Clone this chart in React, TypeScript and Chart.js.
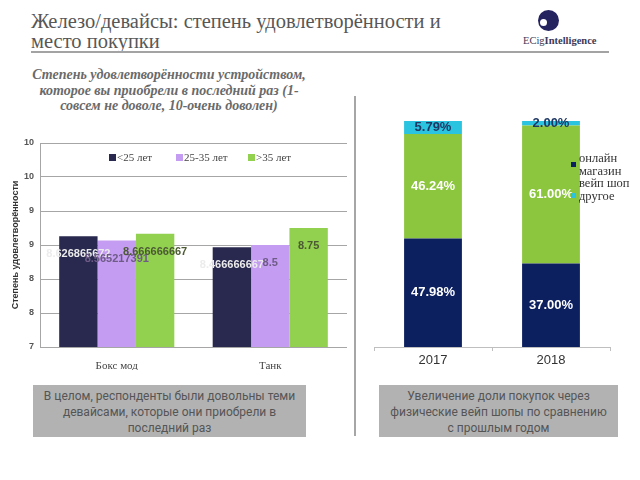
import React, { useEffect, useRef } from "react";
import { Chart, registerables } from "chart.js";

Chart.register(...registerables);

// ---- Data: left chart (satisfaction) ----
const deviceCategories = ["Бокс мод", "Танк"];
const ageGroups = ["<25 лет", "25-35 лет", ">35 лет"];
const under25 = [8.626865672, 8.466666667];
const age25to35 = [8.565217391, 8.5];
const over35 = [8.666666667, 8.75];
const satisfactionMin = 7;
const satisfactionMax = 10;
const satisfactionStep = 0.5;
const satisfactionAxisTitle = "Степень удовлетворённости";

// ---- Data: right chart (place of purchase) ----
const years = ["2017", "2018"];
const placeNames = ["онлайн магазин", "вейп шоп", "другое"];
const onlineShop = [47.98, 37.0];
const vapeShop = [46.24, 61.0];
const otherPlace = [5.79, 2.0];

// ---- Styles ----
const ageColors = ["#29294f", "#c49cf2", "#92d050"];
const ageLabelColors = ["#ececec", "#6e5b86", "#4c5a34"];
const placeColors = ["#0c1f5f", "#8cc63e", "#2ac3e0"];
const placeLabelColors = ["#ffffff", "#ffffff", "#1f3864"];

const valueLabels = {
  id: "valueLabels",
  afterDatasetsDraw(chart: any, _args: any, opts: any) {
    const ctx = chart.ctx;
    chart.data.datasets.forEach((ds: any, i: number) => {
      const meta = chart.getDatasetMeta(i);
      meta.data.forEach((bar: any, j: number) => {
        const v = ds.data[j];
        const text = opts.format(v);
        let y: number;
        if (opts.mode === "center") {
          const p = bar.getProps(["y", "base"], true);
          y = (p.y + p.base) / 2;
        } else {
          y = bar.y + opts.offset;
        }
        ctx.save();
        ctx.font = opts.font;
        ctx.fillStyle = opts.colors[i];
        ctx.textAlign = "center";
        ctx.textBaseline = "middle";
        ctx.fillText(text, bar.x, y);
        ctx.restore();
      });
    });
  },
};

function SatisfactionChart() {
  const ref = useRef<HTMLCanvasElement | null>(null);
  useEffect(() => {
    if (!ref.current) return;
    const series = [under25, age25to35, over35];
    const chart = new Chart(ref.current, {
      type: "bar",
      data: {
        labels: deviceCategories,
        datasets: ageGroups.map((name, i) => ({
          label: name,
          data: series[i],
          backgroundColor: ageColors[i],
          borderWidth: 0,
          categoryPercentage: 0.75,
          barPercentage: 1,
        })),
      },
      options: {
        animation: false,
        responsive: false,
        maintainAspectRatio: false,
        layout: { padding: { left: 0, right: 8, top: 13, bottom: 0 } },
        plugins: {
          legend: { display: false },
          tooltip: { enabled: false },
          valueLabels: {
            mode: "top",
            offset: 18,
            font: "bold 11px 'Liberation Sans'",
            colors: ageLabelColors,
            format: (v: number) => String(v),
          },
        } as any,
        scales: {
          x: {
            grid: { display: false },
            border: { display: false },
            ticks: {
              font: { family: "'Liberation Serif'", size: 11 },
              color: "#444",
              padding: 5,
            },
            afterFit: (s: any) => {
              s.height = 23;
            },
          },
          y: {
            min: satisfactionMin,
            max: satisfactionMax,
            grid: { color: "#a6a6a6", drawTicks: false },
            border: { display: true, color: "#a6a6a6" },
            ticks: {
              stepSize: satisfactionStep,
              padding: 6,
              color: "#555",
              font: { family: "'Liberation Sans'", size: 9, weight: "bold" },
              callback: (v: any) => String(Math.round(Number(v))),
            },
            title: {
              display: true,
              text: satisfactionAxisTitle,
              color: "#333",
              font: { family: "'Liberation Sans'", size: 9, weight: "bold" },
              padding: { top: 10, bottom: 0 },
            },
            afterFit: (s: any) => {
              s.width = 40;
            },
          },
        },
      },
      plugins: [valueLabels as any],
    });
    return () => chart.destroy();
  }, []);
  return <canvas ref={ref} width={355} height={240} style={{ display: "block" }} />;
}

function PlaceChart() {
  const ref = useRef<HTMLCanvasElement | null>(null);
  useEffect(() => {
    if (!ref.current) return;
    const series = [onlineShop, vapeShop, otherPlace];
    const chart = new Chart(ref.current, {
      type: "bar",
      data: {
        labels: years,
        datasets: placeNames.map((name, i) => ({
          label: name,
          data: series[i],
          backgroundColor: placeColors[i],
          borderWidth: 0,
          categoryPercentage: 1,
          barPercentage: 0.49,
        })),
      },
      options: {
        animation: false,
        responsive: false,
        maintainAspectRatio: false,
        layout: { padding: { left: 14, right: 30, top: 21, bottom: 0 } },
        plugins: {
          legend: { display: false },
          tooltip: { enabled: false },
          valueLabels: {
            mode: "center",
            font: "bold 13px 'Liberation Sans'",
            colors: placeLabelColors,
            format: (v: number) => v.toFixed(2) + "%",
          },
        } as any,
        scales: {
          x: {
            stacked: true,
            grid: { drawOnChartArea: false, tickLength: 4, color: "#bfbfbf" },
            border: { color: "#bfbfbf" },
            ticks: {
              font: { family: "'Liberation Sans'", size: 13 },
              color: "#333",
              padding: 2,
            },
            afterFit: (s: any) => {
              s.height = 33;
            },
          },
          y: {
            stacked: true,
            display: false,
            min: 0,
            max: 100,
          },
        },
      },
      plugins: [valueLabels as any],
    });
    return () => chart.destroy();
  }, []);
  return <canvas ref={ref} width={280} height={280} style={{ display: "block" }} />;
}

export default function App() {
  const abs = (s: React.CSSProperties): React.CSSProperties => ({ position: "absolute", ...s });
  return (
    <div style={{ position: "absolute", left: 0, top: 0, width: 640, height: 480, background: "#fff", overflow: "hidden" }}>
      {/* Title */}
      <div
        style={abs({
          left: 31,
          top: 11,
          width: 470,
          fontFamily: "'Liberation Serif', serif",
          fontSize: 20.5,
          lineHeight: "20px",
          color: "#575757",
        })}
      >
        Железо/девайсы: степень удовлетворённости и
        <br />
        место покупки
      </div>
      <div style={abs({ left: 31, top: 51, width: 578, height: 2, background: "#a3a3a3" })} />

      {/* Logo */}
      <div style={abs({ left: 538, top: 10, width: 21, height: 21, borderRadius: "50%", background: "#24235f" })} />
      <div style={abs({ left: 540, top: 19, width: 7, height: 7, borderRadius: "50%", background: "#fff" })} />
      <div
        style={abs({
          left: 523,
          top: 35,
          fontFamily: "'Liberation Serif', serif",
          fontSize: 10.5,
          color: "#3b3b5b",
          whiteSpace: "nowrap",
        })}
      >
        ECig<b>Intelligence</b>
      </div>

      {/* Subtitle */}
      <div
        style={abs({
          left: 19,
          top: 67,
          width: 300,
          textAlign: "center",
          fontFamily: "'Liberation Serif', serif",
          fontStyle: "italic",
          fontWeight: "bold",
          fontSize: 14,
          lineHeight: "15.5px",
          color: "#6a6a6a",
        })}
      >
        Степень удовлетворённости устройством,
        <br />
        которое вы приобрели в последний раз (1-
        <br />
        совсем не доволе, 10-очень доволен)
      </div>

      {/* Divider */}
      <div style={abs({ left: 354, top: 96, width: 2, height: 340, background: "#a6a6a6" })} />

      {/* Left chart */}
      <div style={abs({ left: 0, top: 130, width: 355, height: 240 })}>
        <SatisfactionChart />
      </div>
      {/* Left legend */}
      {ageGroups.map((name, i) => (
        <div
          key={name}
          style={abs({
            left: [109, 176, 248][i],
            top: 150,
            display: "flex",
            alignItems: "center",
            fontFamily: "'Liberation Serif', serif",
            fontSize: 11,
            lineHeight: "14px",
            color: "#444",
            whiteSpace: "nowrap",
          })}
        >
          <span style={{ display: "inline-block", width: 7, height: 7, background: ageColors[i], marginRight: 1 }} />
          {name}
        </div>
      ))}

      {/* Right chart */}
      <div style={abs({ left: 360, top: 100, width: 280, height: 280 })}>
        <PlaceChart />
      </div>
      {/* Right legend */}
      <div style={abs({ left: 571, top: 152, width: 69 })}>
        {placeNames.map((name, i) => (
          <div key={name} style={{ display: "flex", alignItems: "center" }}>
            <span style={{ display: "inline-block", width: 5, height: 5, background: placeColors[i], marginRight: 3, flex: "none" }} />
            <span
              style={{
                width: 60,
                fontFamily: "'Liberation Serif', serif",
                fontSize: 12.5,
                lineHeight: "12.5px",
                color: "#333",
              }}
            >
              {name}
            </span>
          </div>
        ))}
      </div>

      {/* Bottom boxes */}
      <div
        style={abs({
          left: 33,
          top: 385,
          width: 273,
          height: 52,
          background: "#b2b2b2",
          boxSizing: "border-box",
          paddingTop: 3,
          textAlign: "center",
          fontFamily: "Roboto, sans-serif",
          fontSize: 12,
          lineHeight: "16px",
          color: "#555",
        })}
      >
        В целом, респонденты были довольны теми
        <br />
        девайсами, которые они приобрели в
        <br />
        последний раз
      </div>
      <div
        style={abs({
          left: 379,
          top: 385,
          width: 239,
          height: 52,
          background: "#b2b2b2",
          boxSizing: "border-box",
          paddingTop: 3,
          textAlign: "center",
          fontFamily: "Roboto, sans-serif",
          fontSize: 12,
          lineHeight: "16px",
          color: "#555",
        })}
      >
        Увеличение доли покупок через
        <br />
        физические вейп шопы по сравнению
        <br />
        с прошлым годом
      </div>
    </div>
  );
}
